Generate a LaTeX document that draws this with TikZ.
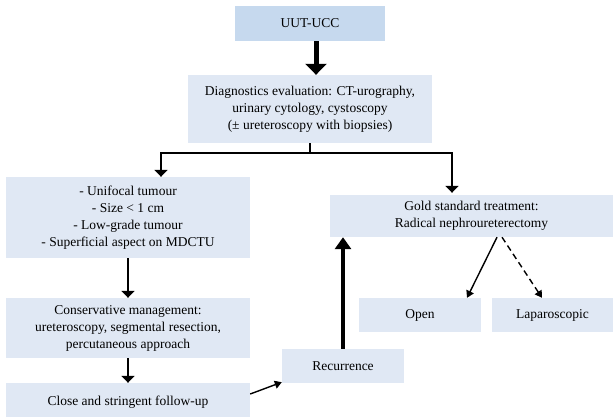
\documentclass[tikz,border=0pt]{standalone}
\usepackage{fontspec}
\setmainfont{Liberation Serif}
\usepackage{tikz}
\usetikzlibrary{arrows.meta, calc}

\definecolor{boxfill}{HTML}{E0E8F4}
\definecolor{topfill}{HTML}{C6D9EE}

\tikzset{
    box/.style={fill=boxfill, inner sep=0pt, align=center, font=\fontsize{13.5}{17}\selectfont},
    bigarrow/.style={line width=5pt, -{Triangle[width=21pt,length=11pt]}},
    uparrow/.style={line width=4.5pt, -{Triangle[width=16pt,length=12pt]}},
    midarrow/.style={line width=2.7pt, -{Triangle[width=13pt,length=7pt]}},
    thinarrow/.style={line width=1.4pt, -{Triangle[width=8pt,length=7pt]}}
}

\begin{document}
\begin{tikzpicture}[x=1pt,y=-1pt]
    \useasboundingbox (0,0) rectangle (613,416);

    % boxes
    \node[box, fill=topfill, minimum width=150pt, minimum height=35pt] (uut) at (310,23.5) {UUT-UCC};
    \node[box, minimum width=244pt, minimum height=68pt] (diag) at (310,109) {Diagnostics evaluation: CT-urography,\\ urinary cytology, cystoscopy\\ (± ureteroscopy with biopsies)};
    \node[box, minimum width=244pt, minimum height=81pt] (crit) at (128,217.5) {- Unifocal tumour\\ - Size < 1 cm\\ - Low-grade tumour\\ - Superficial aspect on MDCTU};
    \node[box, minimum width=283pt, minimum height=42pt] (gold) at (471.5,216) {Gold standard treatment:\\ Radical nephroureterectomy};
    \node[box, minimum width=244pt, minimum height=60pt] (cons) at (128,328) {Conservative management:\\ ureteroscopy, segmental resection,\\ percutaneous approach};
    \node[box, minimum width=244pt, minimum height=38pt] (follow) at (128,402) {Close and stringent follow-up};
    \node[box, minimum width=122pt, minimum height=34pt] (recur) at (343,366) {Recurrence};
    \node[box, minimum width=122pt, minimum height=34pt] (open) at (420,315) {Open};
    \node[box, minimum width=121pt, minimum height=34pt] (lap) at (552.5,315) {Laparoscopic};

    % connectors
    \draw[bigarrow] ([xshift=6pt]uut.south) -- ([xshift=6pt]uut.south |- diag.north);
    \coordinate (split) at (310,153);
    \draw[line width=2.7pt] (diag.south) -- (split);
    \draw[midarrow] (split) -| ([xshift=33pt]crit.north);
    \draw[midarrow] (split) -| ([xshift=-19.5pt,yshift=2pt]gold.north);
    \draw[midarrow] (crit.south) -- (cons.north);
    \draw[midarrow] (cons.south) -- (follow.north);
    \draw[thinarrow] ([yshift=8pt]follow.east) -- ([yshift=1pt]recur.south west);
    \draw[uparrow] (recur.north) -- (recur.north |- gold.south);
    \draw[thinarrow] ([xshift=25.5pt]gold.south) -- ([xshift=47pt]open.north);
    \draw[thinarrow, dash pattern=on 6pt off 4pt] ([xshift=30.5pt]gold.south) -- ([xshift=-10.5pt]lap.north);
\end{tikzpicture}
\end{document}
